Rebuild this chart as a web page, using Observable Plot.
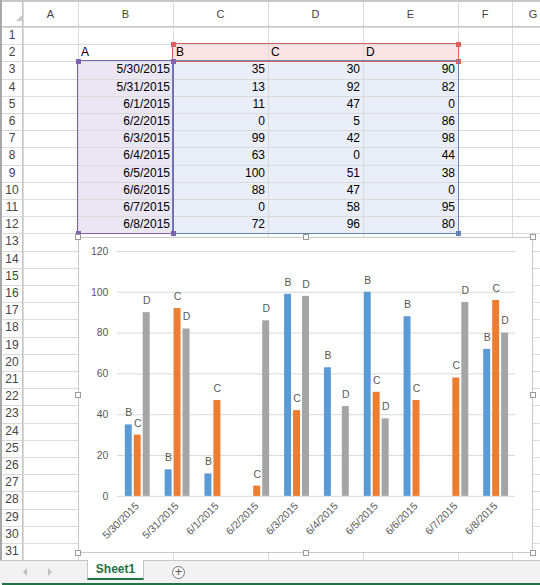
<!DOCTYPE html>
<html>
<head>
<meta charset="utf-8">
<script src="https://cdn.jsdelivr.net/npm/d3@7"></script>
<script src="https://cdn.jsdelivr.net/npm/@observablehq/plot@0.6"></script>
<style>
  html, body { margin: 0; padding: 0; background: #fff; }
  #sheet { position: relative; width: 540px; height: 585px; overflow: hidden; background: #fff;
           font-family: "Liberation Sans", Arial, sans-serif; }
  .abs { position: absolute; box-sizing: border-box; }
  .txt { position: absolute; white-space: nowrap; font-size: 12px; color: #000; line-height: 17px; }
  .hdr { position: absolute; white-space: nowrap; font-size: 11px; color: #444; text-align: center; }
</style>
</head>
<body>
<div id="sheet"></div>
<script>
// ---------- data ----------
const cornerLabel = "A";
const dates = ["5/30/2015","5/31/2015","6/1/2015","6/2/2015","6/3/2015","6/4/2015","6/5/2015","6/6/2015","6/7/2015","6/8/2015"];
const seriesNames = ["B","C","D"];
const valuesB = [35,13,11,0,99,63,100,88,0,72];
const valuesC = [30,92,47,5,42,0,51,47,58,96];
const valuesD = [90,82,0,86,98,44,38,0,95,80];
const yTicks = [0,20,40,60,80,100,120];
const columnLetters = ["A","B","C","D","E","F","G"];
const sheetName = "Sheet1";
const seriesColors = ["#5B9BD5","#ED7D31","#A5A5A5"];

// ---------- spreadsheet geometry (layout only) ----------
const sheet = document.getElementById("sheet");
const colEdges = [0, 23, 78, 173, 268, 363, 458, 512, 554];
const headerTop = 2, headerBottom = 27, rowH = 17.2, nRows = 31;
const rowTop = n => headerBottom + (n - 1) * rowH;
const gridColor = "#dadada";

function box(x, y, w, h, style) {
  const d = document.createElement("div");
  d.className = "abs";
  Object.assign(d.style, {left: x + "px", top: y + "px", width: w + "px", height: h + "px"}, style || {});
  sheet.appendChild(d);
  return d;
}
function text(cls, str, x, y, w, h, align, style) {
  const d = document.createElement("div");
  d.className = cls;
  d.textContent = str;
  Object.assign(d.style, {left: x + "px", top: y + "px", width: w + "px", height: h + "px",
    lineHeight: h + "px", textAlign: align}, style || {});
  sheet.appendChild(d);
  return d;
}

// range fills
const xC = colEdges[3], xE2 = colEdges[6], xB = colEdges[2];
box(xC, rowTop(2), xE2 - xC, rowH, {background: "#fbe4e3"});
box(xB, rowTop(3), xC - xB, rowTop(13) - rowTop(3), {background: "#ebe6f4"});
box(xC, rowTop(3), xE2 - xC, rowTop(13) - rowTop(3), {background: "#e9eef9"});

// gridlines
for (let n = 1; n <= nRows; n++) box(0, Math.round(rowTop(n)), 540, 1, {background: gridColor});
for (let i = 1; i < colEdges.length - 1; i++) box(colEdges[i], headerTop, 1, rowTop(nRows + 1) - headerTop, {background: gridColor});
box(0, headerBottom - 1, 540, 1, {background: "#c4c4c4"});
box(colEdges[1] - 1, headerTop, 1, rowTop(nRows + 1) - headerTop, {background: "#c4c4c4"});
// outer frame
box(0, 0, 540, 2, {background: "#c8c8c8"});
box(0, 0, 2, 585, {background: "#a8a8a8"});
// select-all triangle
box(16, 15, 0, 0, {borderLeft: "6px solid transparent", borderBottom: "6px solid #c8c8c8"});

// column headers
columnLetters.forEach((c, i) => text("hdr", c, colEdges[i + 1], headerTop, colEdges[i + 2] - colEdges[i + 1], headerBottom - headerTop, "center"));
// row headers
for (let n = 1; n <= nRows; n++) text("hdr", String(n), 1, rowTop(n), 22, rowH, "center", {fontSize: "12px"});

// cell contents
text("txt", cornerLabel, xB + 3, rowTop(2), 80, rowH, "left");
seriesNames.forEach((s, i) => text("txt", s, colEdges[3 + i] + 3, rowTop(2), 80, rowH, "left"));
const seriesValues = [valuesB, valuesC, valuesD];
dates.forEach((d, r) => {
  text("txt", d, xB, rowTop(3 + r), xC - xB - 3, rowH, "right");
  seriesValues.forEach((vals, i) => text("txt", String(vals[r]), colEdges[3 + i], rowTop(3 + r), colEdges[4 + i] - colEdges[3 + i] - 3, rowH, "right"));
});

// range borders and handles
function rangeBorder(x0, y0, x1, y1, color, handles) {
  box(x0 - 1, y0 - 1, x1 - x0 + 2, y1 - y0 + 2, {border: "1.5px solid " + color});
  handles.forEach(([hx, hy]) => box(hx - 2.5, hy - 2.5, 5, 5, {background: color}));
}
rangeBorder(xC, rowTop(2), xE2, rowTop(3), "#e0605f", [[xC, rowTop(2)], [xE2, rowTop(2)], [xE2, rowTop(3)]]);
rangeBorder(xC, rowTop(3), xE2, rowTop(13), "#6483b8", [[xE2, rowTop(13)]]);
rangeBorder(xB, rowTop(3), xC, rowTop(13), "#7f63b0", [[xB, rowTop(3)], [xC, rowTop(3)], [xB, rowTop(13)], [xC, rowTop(13)]]);

// tab bar
const tabTop = Math.round(rowTop(nRows + 1));
box(0, tabTop, 540, 585 - tabTop, {background: "#f2f2f2", borderTop: "1px solid #c6c6c6"});
box(2, 583, 538, 2, {background: "#217346"});
box(23, 568, 0, 0, {borderTop: "4px solid transparent", borderBottom: "4px solid transparent", borderRight: "4px solid #c0c0c0"});
box(48, 568, 0, 0, {borderTop: "4px solid transparent", borderBottom: "4px solid transparent", borderLeft: "4px solid #c0c0c0"});
box(87, tabTop, 57, 20, {background: "#fff", borderLeft: "1px solid #c6c6c6", borderRight: "1px solid #c6c6c6", borderBottom: "2px solid #217346"});
text("txt", sheetName, 87, tabTop, 57, 19, "center", {fontWeight: "bold", color: "#217346", fontSize: "12px"});
box(172, 566, 13, 13, {border: "1px solid #777", borderRadius: "50%", background: "#f8f8f8"});
text("txt", "+", 172, 565, 13, 14, "center", {fontSize: "13px", color: "#555"});

// ---------- chart ----------
const chartX = 78, chartY = 237, chartW = 455, chartH = 316;
const chartBox = box(chartX, chartY, chartW, chartH, {background: "#fff", border: "1px solid #c9c9c9"});

const rows = [];
dates.forEach((d, r) => seriesNames.forEach((s, i) => rows.push({date: d, series: s, value: seriesValues[i][r]})));

const chart = Plot.plot({
  width: chartW,
  height: chartH,
  marginLeft: 35,
  marginRight: 13,
  marginTop: 14,
  marginBottom: 56,
  style: {fontFamily: "Liberation Sans, Arial, sans-serif", fontSize: "10.5px", color: "#595959", background: "transparent", overflow: "visible"},
  fx: {domain: dates, padding: 0, axis: "bottom", tickRotate: -45, tickSize: 0, tickPadding: 8, label: null},
  x: {domain: seriesNames, paddingInner: 0.25, paddingOuter: 0.81, axis: null},
  y: {domain: [0, 120], ticks: yTicks, tickSize: 0, tickPadding: 9, label: null},
  color: {domain: seriesNames, range: seriesColors},
  marks: [
    Plot.ruleY(yTicks, {stroke: "#d9d9d9"}),
    Plot.barY(rows, {fx: "date", x: "series", y: "value", fill: "series"}),
    Plot.text(rows.filter(d => d.value > 0), {fx: "date", x: "series", y: "value", text: "series", dy: -12, fill: "#595959", fontSize: 10.5})
  ]
});
chart.style.position = "absolute";
chart.style.left = "-1px";
chart.style.top = "-1px";
chartBox.appendChild(chart);

// chart selection handles
[[0, 0], [0.5, 0], [1, 0], [0, 0.5], [1, 0.5], [0, 1], [0.5, 1], [1, 1]].forEach(([fx, fy]) =>
  box(chartX + fx * chartW - 3, chartY + fy * chartH - 3, 6, 6, {background: "#fff", border: "1px solid #9a9a9a"}));
</script>
</body>
</html>
